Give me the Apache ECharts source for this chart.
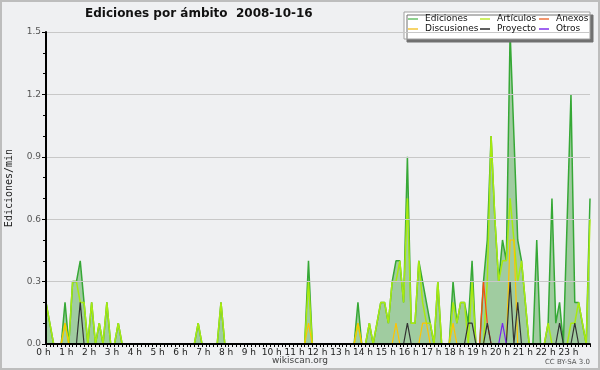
<!DOCTYPE html>
<html><head><meta charset="utf-8">
<script src="https://cdn.jsdelivr.net/npm/echarts@6/dist/echarts.min.js"></script>
<style>html,body{margin:0;padding:0;background:#eff0f2}#c{width:600px;height:370px}</style>
</head><body><div id="c"></div>
<script>
const chartTitle = 'Ediciones por ámbito  2008-10-16';
const yAxisName = 'Ediciones/min';
const hourLabels = ['0 h','1 h','2 h','3 h','4 h','5 h','6 h','7 h','8 h','9 h','10 h','11 h','12 h','13 h','14 h','15 h','16 h','17 h','18 h','19 h','20 h','21 h','22 h','23 h'];
const seriesNames = ['Ediciones','Artículos','Anexos','Discusiones','Proyecto','Otros'];
// one value per 10 minutes (edits/min), 6 per hour row
const ediciones = [
 0.2,0.1,0,0,0,0.2,  0,0.3,0.3,0.4,0.2,0,  0.2,0,0.1,0,0.2,0,  0,0.1,0,0,0,0,
 0,0,0,0,0,0,  0,0,0,0,0,0,  0,0,0,0,0.1,0,  0,0,0,0,0.2,0,
 0,0,0,0,0,0,  0,0,0,0,0,0,  0,0,0,0,0,0,  0,0,0,0.4,0,0,
 0,0,0,0,0,0,  0,0,0,0,0.2,0,  0,0.1,0,0.1,0.2,0.2,  0.1,0.3,0.4,0.4,0.2,0.9,
 0.1,0.1,0.4,0.3,0.2,0.1,  0,0.3,0,0,0,0.3,  0.1,0.2,0.2,0.1,0.4,0,  0,0.3,0.5,1.0,0.6,0.3,
 0.5,0.4,1.5,1.0,0.5,0.4,  0.2,0,0,0.5,0,0,  0.1,0.7,0.1,0.2,0,0.6,  1.2,0.2,0.2,0.1,0,0.7
];
const articulos = [
 0.2,0.1,0,0,0,0.1,  0,0.3,0.3,0.2,0.2,0,  0.2,0,0.1,0,0.2,0,  0,0.1,0,0,0,0,
 0,0,0,0,0,0,  0,0,0,0,0,0,  0,0,0,0,0.1,0,  0,0,0,0,0.2,0,
 0,0,0,0,0,0,  0,0,0,0,0,0,  0,0,0,0,0,0,  0,0,0,0.3,0,0,
 0,0,0,0,0,0,  0,0,0,0,0.1,0,  0,0.1,0,0.1,0.2,0.2,  0.1,0.3,0.3,0.4,0.2,0.7,
 0.1,0.1,0.4,0.2,0.1,0.1,  0,0.3,0,0,0,0.2,  0.1,0.2,0.2,0,0.3,0,  0,0,0.3,1.0,0.6,0.3,
 0.4,0.4,0.7,0.5,0.3,0.4,  0.2,0,0,0,0,0,  0.1,0,0,0,0,0,  0.1,0.1,0.2,0.1,0,0.6
];
const anexos = [
 0,0,0,0,0,0,  0,0,0,0,0,0,  0,0,0,0,0,0,  0,0,0,0,0,0,
 0,0,0,0,0,0,  0,0,0,0,0,0,  0,0,0,0,0,0,  0,0,0,0,0,0,
 0,0,0,0,0,0,  0,0,0,0,0,0,  0,0,0,0,0,0,  0,0,0,0,0,0,
 0,0,0,0,0,0,  0,0,0,0,0,0,  0,0,0,0,0,0,  0,0,0,0,0,0,
 0,0,0,0,0,0,  0,0,0,0,0,0,  0,0,0,0,0,0,  0,0.3,0.1,0,0,0,
 0,0,0,0,0,0,  0,0,0,0,0,0,  0,0,0,0,0,0,  0,0,0,0,0,0
];
const discusiones = [
 0,0,0,0,0,0.1,  0,0,0,0,0,0,  0,0,0,0,0,0,  0,0,0,0,0,0,
 0,0,0,0,0,0,  0,0,0,0,0,0,  0,0,0,0,0,0,  0,0,0,0,0,0,
 0,0,0,0,0,0,  0,0,0,0,0,0,  0,0,0,0,0,0,  0,0,0,0.1,0,0,
 0,0,0,0,0,0,  0,0,0,0,0.1,0,  0,0,0,0,0,0,  0,0,0.1,0,0,0,
 0,0,0,0.1,0.1,0,  0,0,0,0,0,0.1,  0,0,0,0,0,0,  0,0,0,0,0,0,
 0,0,0.5,0.5,0,0,  0,0,0,0,0,0,  0,0,0,0,0,0,  0,0,0,0,0,0
];
const proyecto = [
 0,0,0,0,0,0,  0,0,0,0.2,0,0,  0,0,0,0,0,0,  0,0,0,0,0,0,
 0,0,0,0,0,0,  0,0,0,0,0,0,  0,0,0,0,0,0,  0,0,0,0,0,0,
 0,0,0,0,0,0,  0,0,0,0,0,0,  0,0,0,0,0,0,  0,0,0,0,0,0,
 0,0,0,0,0,0,  0,0,0,0,0,0,  0,0,0,0,0,0,  0,0,0,0,0,0.1,
 0,0,0,0,0,0,  0,0,0,0,0,0,  0,0,0,0.1,0.1,0,  0,0,0.1,0,0,0,
 0,0,0.3,0,0.2,0,  0,0,0,0,0,0,  0,0,0,0.1,0,0,  0,0.1,0,0,0,0
];
const otros = [
 0,0,0,0,0,0,  0,0,0,0,0,0,  0,0,0,0,0,0,  0,0,0,0,0,0,
 0,0,0,0,0,0,  0,0,0,0,0,0,  0,0,0,0,0,0,  0,0,0,0,0,0,
 0,0,0,0,0,0,  0,0,0,0,0,0,  0,0,0,0,0,0,  0,0,0,0,0,0,
 0,0,0,0,0,0,  0,0,0,0,0,0,  0,0,0,0,0,0,  0,0,0,0,0,0,
 0,0,0,0,0,0,  0,0,0,0,0,0,  0,0,0,0,0,0,  0,0,0,0,0,0,
 0.1,0,0,0,0,0,  0,0,0,0,0,0,  0,0,0,0,0,0,  0,0,0,0,0,0
];
const seriesValues = [ediciones, articulos, anexos, discusiones, proyecto, otros];
const lineColors = ['#36a836','#a8ea10','#ff4a10','#ffc400','#333333','#7a22ee'];
const legendColors = ['#8fd08f','#cdee66','#f2966e','#f6d46a','#606060','#a064f0'];
const lineWidths = [1.5,1.5,1.2,1.2,1.2,1.2];

const chart = echarts.init(document.getElementById('c'), null, {renderer:'canvas'});
const font = "'DejaVu Sans',sans-serif";
const series = seriesNames.map((n, k) => ({
  name: n, type: 'line', showSymbol: false, symbol: 'none', animation: false,
  data: seriesValues[k].map((v, i) => [i, v]),
  color: lineColors[k],
  lineStyle: {color: lineColors[k], width: lineWidths[k]},
  areaStyle: k === 0 ? {color: '#a0cca0', opacity: 1} : undefined,
  z: 2
}));
function legendCol(names, left) {
  return {
    orient: 'vertical', left: left, top: 14, itemGap: 0, itemWidth: 10, itemHeight: 2,
    icon: 'rect', padding: 0, z: 10,
    textStyle: {fontFamily: font, fontSize: 9, color: '#111', lineHeight: 10, padding: [0,0,0,2]},
    data: names.map(n => ({name: n, itemStyle: {color: legendColors[seriesNames.indexOf(n)]}}))
  };
}
chart.setOption({
  backgroundColor: '#eff0f2',
  animation: false,
  title: {text: chartTitle, left: 80, top: 3, textStyle: {fontFamily: font, fontWeight: 'bold', fontSize: 12, color: '#111'}},
  grid: {left: 46, right: 10, top: 32, bottom: 26, containLabel: false, outerBoundsMode: 'none'},
  legend: [
    legendCol([seriesNames[0], seriesNames[3]], 408),
    legendCol([seriesNames[1], seriesNames[4]], 480),
    legendCol([seriesNames[2], seriesNames[5]], 539)
  ],
  xAxis: {
    type: 'value', min: 0, max: ediciones.length - 1, interval: 6, z: 10,
    axisLine: {show: true, lineStyle: {color: '#000', width: 2}},
    axisTick: {show: true, length: 3, lineStyle: {color: '#000'}},
    minorTick: {show: true, splitNumber: 6, length: 3, lineStyle: {color: '#000'}},
    splitLine: {show: false},
    axisLabel: {showMaxLabel: false, fontFamily: font, fontSize: 9, color: '#222', margin: 4, padding: [0,5,0,0],
      formatter: v => (v % 6 === 0 && hourLabels[v / 6]) ? hourLabels[v / 6] : ''}
  },
  yAxis: {
    type: 'value', min: 0, max: 1.5, interval: 0.3, z: 10,
    name: yAxisName, nameLocation: 'middle', nameGap: 32,
    nameTextStyle: {fontFamily: "'DejaVu Sans Mono',monospace", fontSize: 10, color: '#222'},
    axisLine: {show: true, lineStyle: {color: '#000', width: 2}},
    axisTick: {show: true, length: 4, lineStyle: {color: '#000'}},
    minorTick: {show: true, splitNumber: 3, length: 3, lineStyle: {color: '#000'}},
    splitLine: {show: true, lineStyle: {color: '#c8c8c8', width: 1}},
    axisLabel: {fontFamily: font, fontSize: 9, color: '#555', margin: 5, formatter: v => v.toFixed(1)}
  },
  graphic: [
    {type: 'rect', shape: {x: 1, y: 1, width: 598, height: 368}, style: {fill: 'none', stroke: '#bdbdbd', lineWidth: 2}, z: 0, silent: true},
    {type: 'rect', shape: {x: 404, y: 12, width: 186, height: 27}, style: {fill: '#ffffff', stroke: '#a0a0a0', lineWidth: 1, shadowColor: '#707070', shadowOffsetX: 3, shadowOffsetY: 3, shadowBlur: 0}, z: 5, silent: true},
    {type: 'text', left: 'center', top: 356, style: {text: 'wikiscan.org', font: "9px 'DejaVu Sans',sans-serif", fill: '#444'}},
    {type: 'text', right: 10, top: 359, style: {text: 'CC BY-SA 3.0', font: "7px 'DejaVu Sans',sans-serif", fill: '#555'}}
  ],
  series: series
});
</script></body></html>
